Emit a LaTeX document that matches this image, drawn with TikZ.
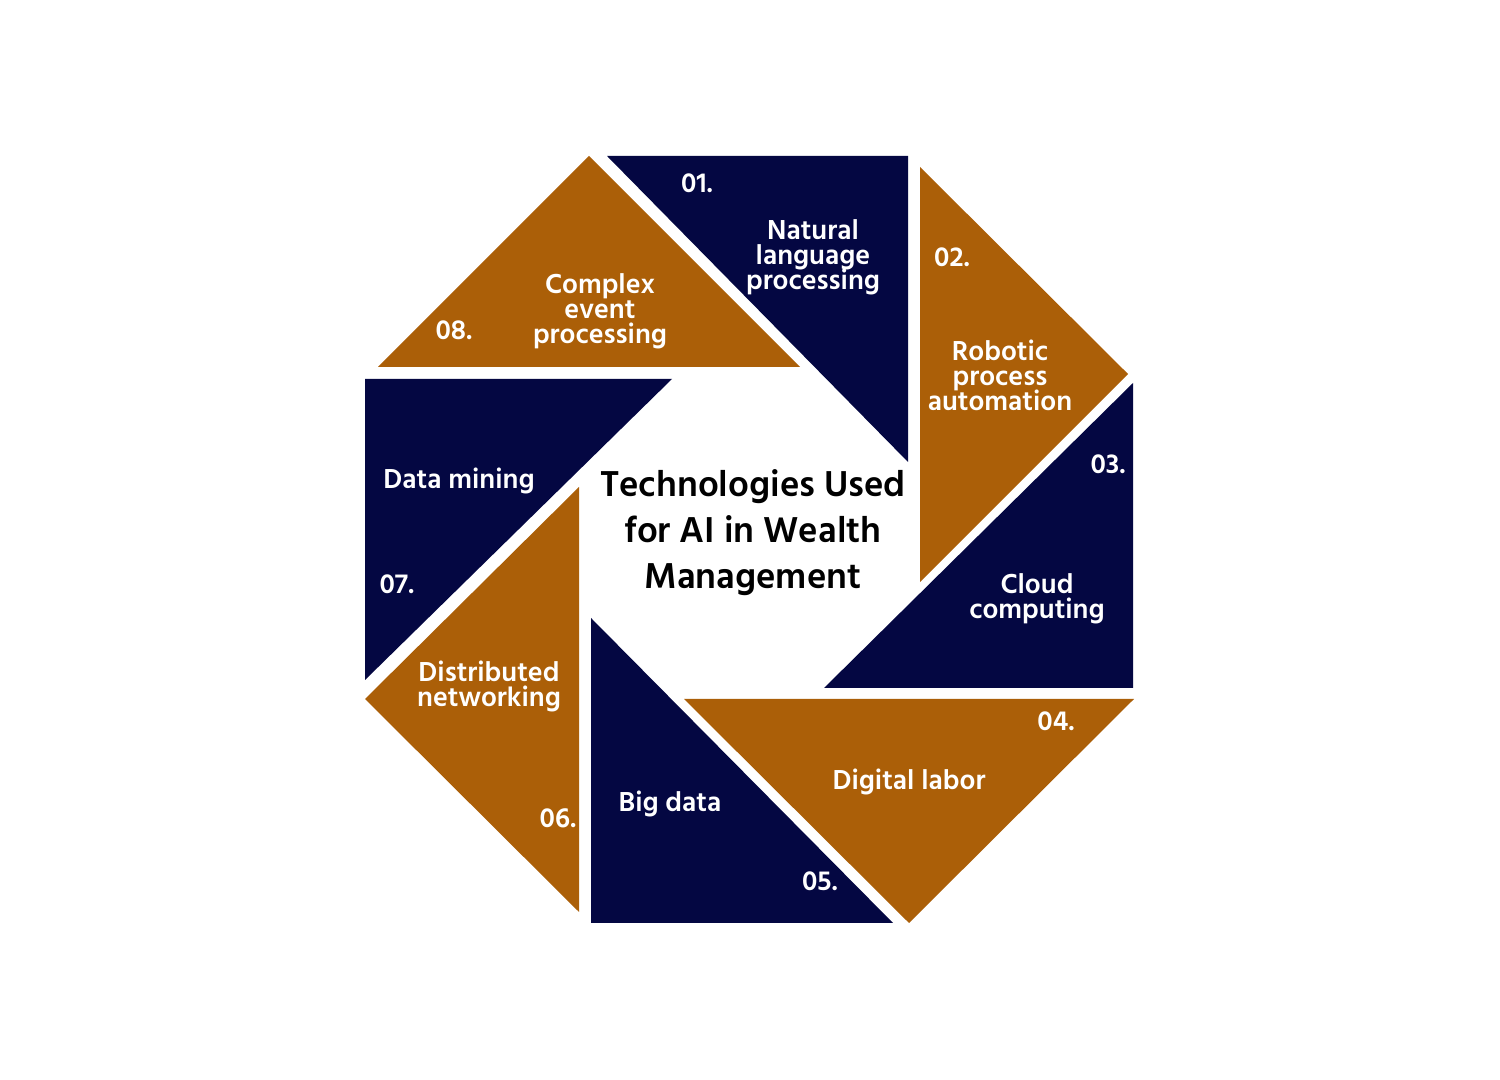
\documentclass[tikz,border=0pt]{standalone}
\usepackage{fontspec}
\setmainfont{Hind Siliguri}
\usetikzlibrary{positioning}
\definecolor{navy}{RGB}{4,7,66}
\definecolor{ochre}{RGB}{171,95,8}
\tikzset{
  blade/.style={line width=0pt},
  lbl/.style={text=white, font={\bfseries\fontsize{8}{7.1}\selectfont\lineskiplimit=-10pt}, align=center, inner sep=0pt},
  num/.style={text=white, font=\bfseries\fontsize{8}{8}\selectfont, inner sep=0pt},
  title/.style={text=black, font={\bfseries\fontsize{10.5}{13.1}\selectfont\lineskiplimit=-10pt}, align=center, inner sep=0pt}
}

\begin{document}
\begin{tikzpicture}[x=0.01cm, y=-0.01cm]
        \useasboundingbox (0,0) rectangle (1500,1080);
        % Blades, clockwise from the top
        \fill[navy, blade] (607,156) -- (908,156) -- (908,462) -- cycle;
        \fill[ochre, blade] (920,167) -- (1128,374) -- (920,582) -- cycle;
        \fill[navy, blade] (1133,383) -- (1133,688) -- (824,688) -- cycle;
        \fill[ochre, blade] (684,699) -- (1134,699) -- (909,923) -- cycle;
        \fill[navy, blade] (591,618) -- (591,923) -- (893,923) -- cycle;
        \fill[ochre, blade] (579,487) -- (579,912) -- (365,699) -- cycle;
        \fill[navy, blade] (365,379) -- (672,379) -- (365,680) -- cycle;
        \fill[ochre, blade] (378,367) -- (800,367) -- (589,156) -- cycle;
        % Title in the middle
        \node[title] (title) at (753,533) {Technologies Used\\for AI in Wealth\\Management};
        % 01
        \node[num] (n1) at (697,183) {01.};
        \node[lbl] (t1) at (813,257) {Natural\\language\\processing};
        % 02
        \node[num] (n2) at (952,257) {02.};
        \node[lbl] (t2) at (1000,375) {Robotic\\process\\automation};
        % 03
        \node[num] (n3) at (1108,464) {03.};
        \node[lbl] (t3) at (1037,599) {Cloud\\computing};
        % 04
        \node[num] (n4) at (1056,721) {04.};
        \node[lbl] (t4) at (909,782) {Digital labor};
        % 05
        \node[num] (n5) at (820,881) {05.};
        \node[lbl] (t5) at (670,804) {Big data};
        % 06
        \node[num] (n6) at (558,818) {06.};
        \node[lbl] (t6) at (489,686) {Distributed\\networking};
        % 07
        \node[num] (n7) at (397,584) {07.};
        \node[lbl] (t7) at (459,481) {Data mining};
        % 08
        \node[num] (n8) at (454,330) {08.};
        \node[lbl] (t8) at (600,311) {Complex\\event\\processing};
    \end{tikzpicture}
\end{document}
